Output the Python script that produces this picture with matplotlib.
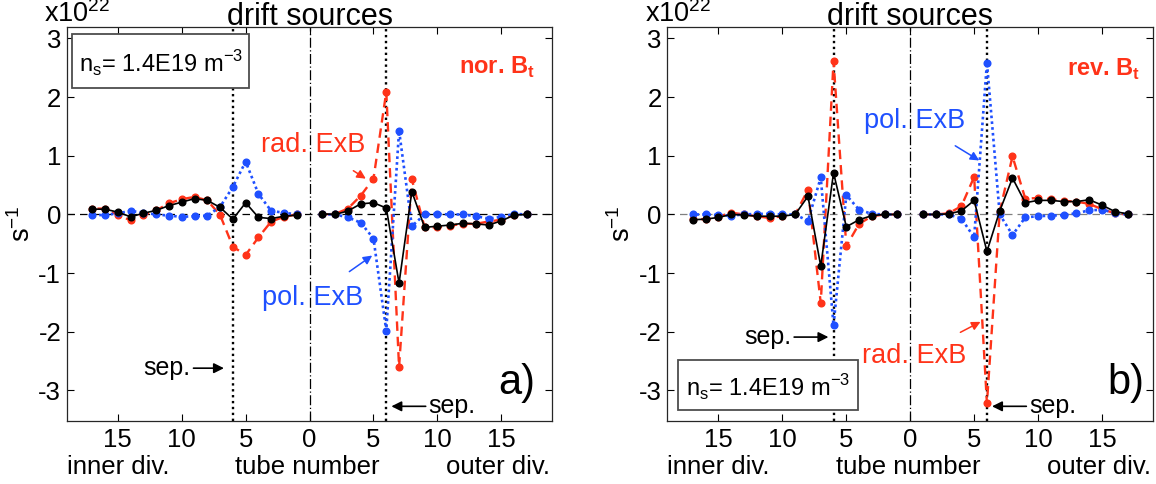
import matplotlib
matplotlib.use("Agg")
import matplotlib.pyplot as plt
from matplotlib.patches import Rectangle
import numpy as np

plt.rcParams['font.family'] = ['Liberation Sans', 'DejaVu Sans']
plt.rcParams['mathtext.fontset'] = 'custom'
plt.rcParams['mathtext.rm'] = 'Liberation Sans'
plt.rcParams['mathtext.bf'] = 'Liberation Sans:bold'
plt.rcParams['axes.unicode_minus'] = False

RED = '#ff3319'
BLUE = '#1f50ff'

# tube numbers 1..17, same on the inner (left) and outer (right) half
tubes = np.arange(1, 18)
x_ticks = [-15, -10, -5, 0, 5, 10, 15]
y_ticks = [-3, -2, -1, 0, 1, 2, 3]

# a) normal Bt, values in 1e22 s^-1, listed by tube 1..17
rad_a_inner = [0.0, -0.04, -0.12, -0.39, -0.69, -0.55, -0.01, 0.24, 0.30, 0.26, 0.19, 0.07, -0.01, -0.10, -0.01, 0.10, 0.10]
pol_a_inner = [0.0, 0.03, 0.06, 0.35, 0.90, 0.47, 0.13, -0.02, -0.03, -0.04, -0.02, 0.0, 0.03, 0.06, 0.02, -0.01, -0.01]
tot_a_inner = [-0.01, -0.03, -0.07, -0.05, 0.20, -0.08, 0.12, 0.24, 0.27, 0.21, 0.15, 0.07, 0.02, -0.04, 0.04, 0.09, 0.09]
rad_a_outer = [0.0, 0.01, 0.10, 0.32, 0.61, 2.09, -2.60, 0.60, -0.22, -0.22, -0.19, -0.16, -0.16, -0.12, -0.09, -0.01, 0.0]
pol_a_outer = [0.0, 0.0, -0.05, -0.14, -0.41, -1.98, 1.43, -0.20, 0.0, 0.01, 0.0, 0.0, -0.03, -0.07, -0.04, 0.01, 0.0]
tot_a_outer = [0.01, 0.0, 0.06, 0.18, 0.20, 0.11, -1.17, 0.39, -0.22, -0.20, -0.18, -0.15, -0.16, -0.18, -0.11, -0.01, 0.0]

# b) reversed Bt
rad_b_inner = [0.0, 0.0, -0.03, -0.16, -0.54, 2.61, -1.51, 0.42, 0.0, -0.03, -0.06, -0.03, 0.0, 0.03, -0.04, -0.08, -0.08]
pol_b_inner = [0.0, 0.0, 0.01, 0.08, 0.33, -1.89, 0.63, -0.11, 0.0, 0.0, 0.01, 0.01, 0.0, -0.02, -0.01, 0.0, 0.0]
tot_b_inner = [0.0, 0.0, -0.02, -0.09, -0.21, 0.71, -0.88, 0.31, 0.0, -0.03, -0.03, -0.03, -0.01, 0.0, -0.05, -0.08, -0.09]
rad_b_outer = [0.0, 0.0, 0.02, 0.14, 0.64, -3.22, 0.05, 0.99, 0.27, 0.28, 0.26, 0.23, 0.22, 0.18, 0.09, 0.02, 0.0]
pol_b_outer = [0.0, 0.0, 0.0, -0.07, -0.39, 2.59, 0.0, -0.35, -0.05, -0.03, -0.02, -0.01, 0.02, 0.07, 0.08, 0.03, 0.0]
tot_b_outer = [0.0, 0.0, 0.01, 0.06, 0.24, -0.63, 0.06, 0.62, 0.20, 0.24, 0.24, 0.22, 0.22, 0.25, 0.16, 0.05, 0.01]

SEP_TUBE = 6
FS = 18.5


def draw_panel(ax, rad_in, pol_in, tot_in, rad_out, pol_out, tot_out, zero_color):
    ax.axhline(0, color=zero_color, lw=0.9, ls=(0, (6, 4)), zorder=1)
    ax.axvline(0, color='k', lw=0.9, ls=(0, (8, 2, 1, 2)), zorder=1)
    for xs in (-SEP_TUBE, SEP_TUBE):
        ax.axvline(xs, color='k', lw=1.7, ls=(0, (1, 1.5)), zorder=1)

    for sign, rad, pol, tot in ((-1, rad_in, pol_in, tot_in), (1, rad_out, pol_out, tot_out)):
        x = sign * tubes
        ax.plot(x, rad, color=RED, ls=(0, (4, 2.5)), lw=1.7, marker='o', ms=4.8, zorder=3)
        ax.plot(x, pol, color=BLUE, ls=(0, (1, 1.2)), lw=1.9, marker='o', ms=4.8, zorder=4)
        ax.plot(x, tot, color='k', ls='-', lw=1.2, marker='o', ms=4.8, zorder=5)

    ax.set_xlim(-19, 19)
    ax.set_ylim(-3.52, 3.19)
    ax.set_xticks(x_ticks)
    ax.set_xticklabels([str(abs(t)) for t in x_ticks])
    ax.set_yticks(y_ticks)
    ax.set_yticklabels([str(t) for t in y_ticks])
    ax.tick_params(direction='in', top=True, right=True, length=5, width=0.8,
                   labelsize=FS)
    ax.tick_params(axis='x', pad=5)
    ax.tick_params(axis='y', pad=4)
    for sp in ax.spines.values():
        sp.set_linewidth(0.9)
        sp.set_color('0.15')

    ax.set_title('drift sources', fontsize=22, pad=2)
    ax.set_ylabel('s$^{-1}$', fontsize=FS + 1)
    ax.yaxis.set_label_coords(-0.064, 0.5)
    ax.text(-0.047, 1.013, 'x10$^{22}$', transform=ax.transAxes, fontsize=FS + 1,
            ha='left', va='baseline')
    ax.text(0.0, -0.135, 'inner div.', transform=ax.transAxes, fontsize=FS,
            ha='left', va='baseline')
    ax.text(0.495, -0.135, 'tube number', transform=ax.transAxes, fontsize=FS,
            ha='center', va='baseline')
    ax.text(0.995, -0.135, 'outer div.', transform=ax.transAxes, fontsize=FS,
            ha='right', va='baseline')


def sep_labels(ax, y_left, x_left_tip, y_right):
    ax.annotate('sep.', xy=(x_left_tip, y_left), xytext=(-9.3, y_left),
                fontsize=18, ha='right', va='center',
                arrowprops=dict(arrowstyle='-|>', color='k', lw=1.2, mutation_scale=15,
                                shrinkA=0, shrinkB=0))
    ax.annotate('sep.', xy=(6.4, y_right), xytext=(9.3, y_right),
                fontsize=18, ha='left', va='center',
                arrowprops=dict(arrowstyle='-|>', color='k', lw=1.2, mutation_scale=15,
                                shrinkA=0, shrinkB=0))


def ns_box(ax, x0, x1, y0, y1):
    ax.add_patch(Rectangle((x0, y0), x1 - x0, y1 - y0, fc='white', ec='0.3', lw=1.3, zorder=6))
    ax.text((x0 + x1) / 2, (y0 + y1) / 2 - 0.05,
            r'n$_\mathregular{s}$= 1.4E19 m$^\mathregular{-3}$', fontsize=17,
            ha='center', va='center', zorder=7)


fig = plt.figure(figsize=(11.56, 4.84), dpi=100)
ax_a = fig.add_axes([0.0577, 0.1302, 0.4202, 0.8134])
ax_b = fig.add_axes([0.5773, 0.1302, 0.4202, 0.8134])

# panel a
draw_panel(ax_a, rad_a_inner, pol_a_inner, tot_a_inner,
           rad_a_outer, pol_a_outer, tot_a_outer, 'k')
ns_box(ax_a, -18.6, -4.7, 2.16, 3.08)
ax_a.text(17.6, 2.5, r'nor. B$_\mathbf{t}$', color=RED, fontsize=17,
          fontweight='bold', ha='right', va='center')
ax_a.annotate('rad. ExB', xy=(4.4, 0.61), xytext=(0.3, 1.18), color=RED,
              fontsize=FS + 1, ha='center', va='center',
              arrowprops=dict(arrowstyle='-|>', color=RED, lw=1.1, mutation_scale=13,
                              shrinkA=13, shrinkB=0))
ax_a.annotate('pol. ExB', xy=(4.9, -0.70), xytext=(0.2, -1.42), color=BLUE,
              fontsize=FS + 1, ha='center', va='center',
              arrowprops=dict(arrowstyle='-|>', color=BLUE, lw=1.1, mutation_scale=13,
                              shrinkA=13, shrinkB=0))
sep_labels(ax_a, -2.62, -6.7, -3.27)
ax_a.text(16.2, -2.88, 'a)', fontsize=30, ha='center', va='center')

# panel b
draw_panel(ax_b, rad_b_inner, pol_b_inner, tot_b_inner,
           rad_b_outer, pol_b_outer, tot_b_outer, '0.5')
ns_box(ax_b, -18.2, -4.1, -3.33, -2.48)
ax_b.text(18.0, 2.48, r'rev. B$_\mathbf{t}$', color=RED, fontsize=17,
          fontweight='bold', ha='right', va='center')
ax_b.annotate('pol. ExB', xy=(5.4, 0.92), xytext=(0.3, 1.6), color=BLUE,
              fontsize=FS + 1, ha='center', va='center',
              arrowprops=dict(arrowstyle='-|>', color=BLUE, lw=1.1, mutation_scale=13,
                              shrinkA=13, shrinkB=0))
ax_b.annotate('rad. ExB', xy=(5.5, -1.83), xytext=(0.3, -2.42), color=RED,
              fontsize=FS + 1, ha='center', va='center',
              arrowprops=dict(arrowstyle='-|>', color=RED, lw=1.1, mutation_scale=13,
                              shrinkA=13, shrinkB=0))
sep_labels(ax_b, -2.09, -6.4, -3.27)
ax_b.text(16.9, -2.88, 'b)', fontsize=30, ha='center', va='center')

fig.savefig('out.png', dpi=100)
